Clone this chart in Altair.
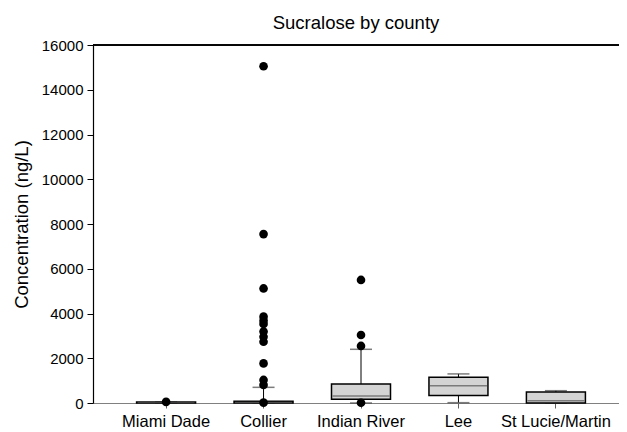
import altair as alt
import pandas as pd

counties = ["Miami Dade", "Collier", "Indian River", "Lee", "St Lucie/Martin"]
whisker_low = [0, 0, 0, 15, 0]
q1 = [0, 0, 165, 330, 0]
median = [20, 20, 313, 775, 100]
q3 = [40, 80, 850, 1150, 490]
whisker_high = [40, 700, 2400, 1300, 550]

outlier_county = (["Miami Dade"]
                  + ["Collier"] * 13
                  + ["Indian River"] * 4)
outlier_value = ([50]
                 + [15050, 7550, 5120, 3860, 3680, 3530, 3190, 2960, 2740, 1770, 1030, 810, 15]
                 + [5500, 3040, 2550, 10])

stats = pd.DataFrame({"county": counties, "lo": whisker_low, "q1": q1,
                      "med": median, "q3": q3, "hi": whisker_high})
outl = pd.DataFrame({"county": outlier_county, "value": outlier_value})

W, H = 526, 358
FONT = "Liberation Sans"

xscale = alt.Scale(type="band", paddingInner=0.5, paddingOuter=0.5, range=[0, 536])
xaxis = alt.Axis(labelAngle=0, domainColor="#808080", tickColor="#606060",
                 tickSize=5, labelPadding=5, domainWidth=1.2, labelFontSize=16.5)
x = alt.X("county:N", sort=counties, title=None, scale=xscale, axis=xaxis)
yscale = alt.Scale(domain=[0, 16000], nice=False, zero=True)
yaxis = alt.Axis(values=list(range(0, 16001, 2000)), title="Concentration (ng/L)",
                 format="d", tickColor="black", domainColor="black", tickSize=6,
                 titlePadding=10, grid=False, labelPadding=4, domainWidth=1.2,
                 labelFontSize=15, titleFontSize=18.5)
y = lambda f: alt.Y(f, scale=yscale, axis=yaxis, title="Concentration (ng/L)")

base = alt.Chart(stats)

whisk_up = base.mark_rule(color="black", strokeWidth=1).encode(
    x=x, y=y("q3:Q"), y2="hi:Q")
whisk_dn = base.mark_rule(color="black", strokeWidth=1).encode(
    x=x, y=y("lo:Q"), y2="q1:Q")
cap_hi = base.mark_tick(color="#444444", size=22, thickness=1.5).encode(
    x=x, y=y("hi:Q"))
cap_lo = base.mark_tick(color="#444444", size=22, thickness=1.5).encode(
    x=x, y=y("lo:Q"))
box = base.mark_bar(size=59, color="#d4d4d4", stroke="black", strokeWidth=1.5).encode(
    x=x, y=y("q1:Q"), y2="q3:Q")
med = base.mark_tick(color="#555555", size=57, thickness=1.5).encode(
    x=x, y=y("med:Q"))
pts = alt.Chart(outl).mark_circle(color="black", size=75, opacity=1).encode(
    x=x, y=y("value:Q"))
topline = alt.Chart(stats).mark_rule(color="black", strokeWidth=1).encode(
    x=alt.value(0), x2=alt.value(W), y=alt.value(0))

chart = alt.layer(whisk_up, whisk_dn, cap_hi, cap_lo, box, med, pts, topline).properties(
    width=W, height=H,
    title=alt.TitleParams("Sucralose by county", offset=6),
    autosize=alt.AutoSizeParams(type="none"),
    padding={"left": 85, "top": 37, "right": 0, "bottom": 30},
).configure_view(stroke=None).configure(background="white").configure_axis(
    labelFont=FONT, labelColor="black",
    titleFont=FONT, titleFontWeight="normal", titleColor="black",
).configure_title(font=FONT, fontSize=18.5, fontWeight="normal", color="black")

chart.save("out.html", embed_options={"renderer": "svg", "actions": False})
